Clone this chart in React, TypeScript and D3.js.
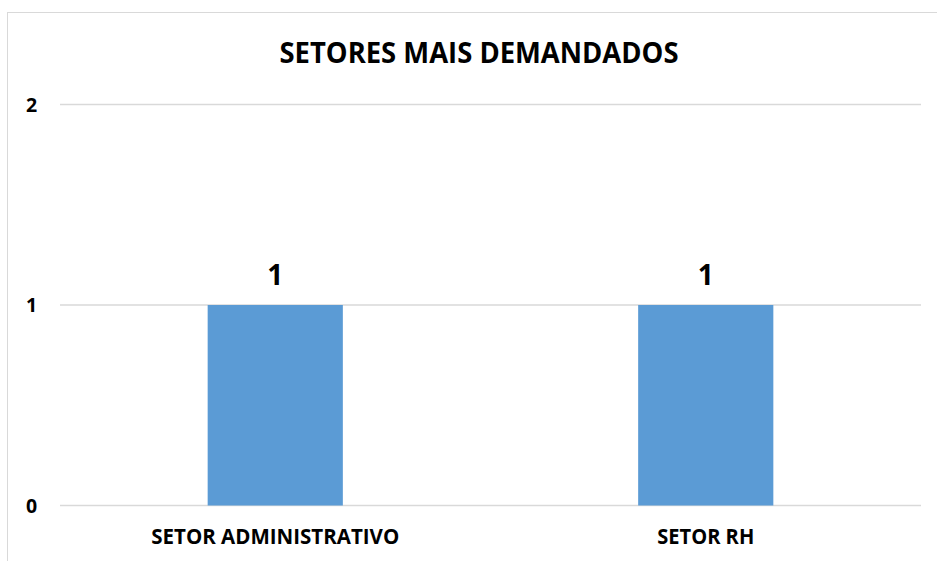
import React from "react";
import * as d3 from "d3";

const categories = ["SETOR ADMINISTRATIVO", "SETOR RH"];
const values = [1, 1];
const yTicks = [0, 1, 2];
const title = "SETORES MAIS DEMANDADOS";

const W = 937;
const H = 561;
const FONT = "'Open Sans', 'DejaVu Sans', sans-serif";
const catLengths: Record<string, number> = { "SETOR ADMINISTRATIVO": 248, "SETOR RH": 97 };

export default function App() {
  const x = d3.scaleBand<string>().domain(categories).range([60, 921]).paddingInner(0).paddingOuter(0);
  const y = d3.scaleLinear().domain([0, 2]).range([505.5, 104.5]);
  const barW = x.bandwidth() * 0.314;

  return (
    <svg width={W} height={H} style={{ position: "absolute", left: 0, top: 0, background: "#fff" }}>
      <rect x={7.5} y={12.5} width={1000} height={700} fill="#fff" stroke="#d9d9d9" strokeWidth={1} />
      <text x={479} y={63.3} textAnchor="middle" fontFamily={FONT} fontWeight={700} fontSize={29} fill="#000"
        textLength={399} lengthAdjust="spacingAndGlyphs">{title}</text>
      {yTicks.map((t) => (
        <g key={t}>
          <line x1={60} x2={921} y1={y(t)} y2={y(t)} stroke="#d9d9d9" strokeWidth={1.3} />
          <text x={31.5} y={y(t) + 7} textAnchor="middle" fontFamily={FONT} fontWeight={700} fontSize={19.5} fill="#000">{t}</text>
        </g>
      ))}
      {categories.map((c, i) => {
        const cx = (x(c) as number) + x.bandwidth() / 2;
        return (
          <g key={c}>
            <rect x={cx - barW / 2} y={y(values[i])} width={barW} height={y(0) - y(values[i])} fill="#5B9BD5" />
            <text x={cx} y={y(values[i]) - 20} textAnchor="middle" fontFamily={FONT} fontWeight={700} fontSize={28} fill="#000">{values[i]}</text>
            <text x={cx} y={544} textAnchor="middle" fontFamily={FONT} fontWeight={700} fontSize={22} fill="#000"
              textLength={catLengths[c]} lengthAdjust="spacingAndGlyphs">{c}</text>
          </g>
        );
      })}
    </svg>
  );
}
